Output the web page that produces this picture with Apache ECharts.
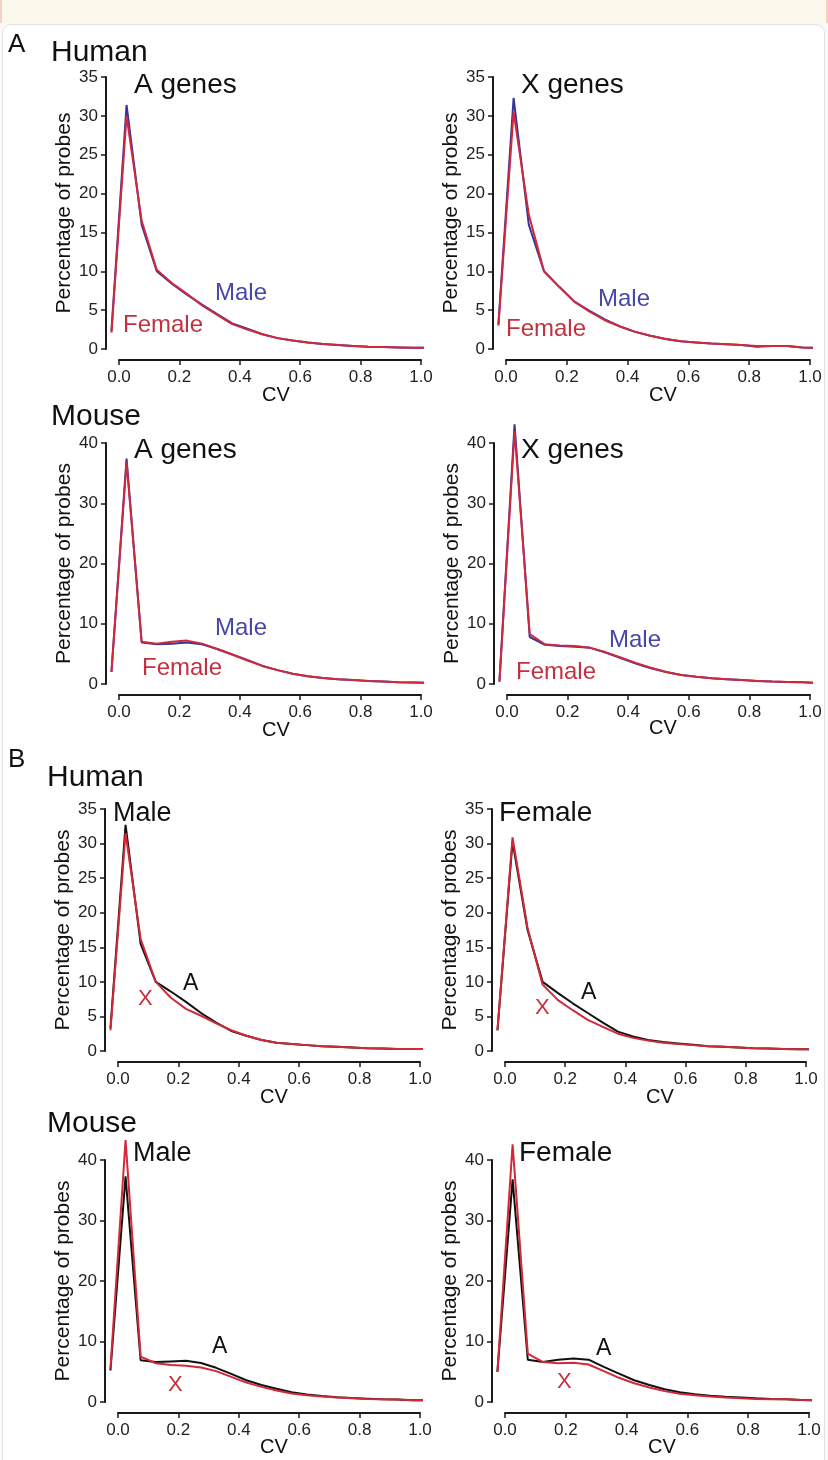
<!DOCTYPE html>
<html>
<head>
<meta charset="utf-8">
<script src="https://cdn.jsdelivr.net/npm/echarts@6/dist/echarts.min.js"></script>
<style>
  html, body { margin: 0; padding: 0; background: #fafafa; }
  #band { position: absolute; left: 0; top: 0; width: 824px; height: 23px; background: #fdf8ec;
          border-left: 2px solid #f4d3c4; border-right: 2px solid #f4d3c4; }
  #panel { position: absolute; left: 2px; top: 24px; width: 821px; height: 1450px; background: #fff;
           border: 1px solid #e2e2e2; border-radius: 9px; }
  #main { position: absolute; left: 0; top: 0; width: 828px; height: 1460px; }
</style>
</head>
<body>
<div id="band"></div>
<div id="panel"></div>
<div id="main"></div>
<script>
// CV 取值（每个折线点的横坐标）
var cv = [-0.025, 0.025, 0.075, 0.125, 0.175, 0.225, 0.275, 0.325, 0.375, 0.425, 0.475,
          0.525, 0.575, 0.625, 0.675, 0.725, 0.775, 0.825, 0.875, 0.925, 0.975, 1.01];

// A: Human A genes
var humanAMale   = [2.3, 31.4, 16.0, 10.0, 8.4, 7.0, 5.7, 4.5, 3.3, 2.6, 1.9, 1.4, 1.1, 0.85, 0.65, 0.5, 0.4, 0.3, 0.25, 0.2, 0.15, 0.15];
var humanAFemale = [2.1, 30.0, 16.5, 10.2, 8.5, 7.1, 5.6, 4.4, 3.2, 2.5, 1.9, 1.4, 1.1, 0.85, 0.65, 0.5, 0.4, 0.3, 0.25, 0.2, 0.15, 0.15];
// A: Human X genes
var humanXMale   = [3.2, 32.3, 16.0, 10.0, 8.0, 6.1, 4.9, 3.8, 2.9, 2.2, 1.7, 1.3, 1.0, 0.85, 0.7, 0.6, 0.5, 0.3, 0.4, 0.4, 0.2, 0.15];
var humanXFemale = [3.0, 30.5, 17.3, 10.0, 8.0, 6.1, 4.8, 3.7, 2.9, 2.2, 1.7, 1.3, 1.0, 0.85, 0.7, 0.6, 0.5, 0.4, 0.4, 0.4, 0.2, 0.15];
// A: Mouse A genes
var mouseAMale   = [2.0, 37.4, 6.9, 6.6, 6.7, 6.9, 6.6, 5.8, 4.9, 4.0, 3.0, 2.3, 1.7, 1.3, 1.0, 0.8, 0.65, 0.5, 0.4, 0.3, 0.25, 0.2];
var mouseAFemale = [2.0, 36.8, 7.0, 6.7, 7.0, 7.2, 6.7, 5.8, 4.9, 3.9, 3.0, 2.3, 1.7, 1.3, 1.0, 0.8, 0.65, 0.5, 0.4, 0.3, 0.25, 0.2];
// A: Mouse X genes
var mouseXMale   = [0.4, 43.1, 7.8, 6.5, 6.3, 6.2, 6.0, 5.2, 4.3, 3.4, 2.6, 2.0, 1.5, 1.2, 0.95, 0.8, 0.65, 0.5, 0.4, 0.35, 0.3, 0.2];
var mouseXFemale = [0.4, 42.0, 8.3, 6.6, 6.4, 6.3, 6.0, 5.3, 4.4, 3.5, 2.7, 2.0, 1.5, 1.2, 0.95, 0.8, 0.65, 0.5, 0.4, 0.35, 0.3, 0.2];

// B: Human Male / Female (A vs X)
var bHumanMaleA   = [3.3, 32.7, 15.5, 10.0, 8.6, 7.1, 5.5, 4.1, 2.9, 2.2, 1.6, 1.2, 1.0, 0.85, 0.7, 0.6, 0.5, 0.4, 0.35, 0.3, 0.3, 0.3];
var bHumanMaleX   = [3.0, 31.5, 16.2, 10.0, 7.7, 6.1, 5.1, 4.0, 3.0, 2.2, 1.6, 1.2, 1.0, 0.85, 0.7, 0.6, 0.5, 0.4, 0.35, 0.3, 0.3, 0.3];
var bHumanFemaleA = [3.0, 30.3, 17.5, 10.0, 8.4, 6.9, 5.5, 4.1, 2.8, 2.1, 1.6, 1.3, 1.1, 0.9, 0.7, 0.6, 0.5, 0.4, 0.35, 0.3, 0.25, 0.25];
var bHumanFemaleX = [3.0, 30.9, 17.8, 9.6, 7.4, 5.9, 4.5, 3.5, 2.5, 1.9, 1.5, 1.2, 1.0, 0.85, 0.7, 0.6, 0.5, 0.4, 0.35, 0.3, 0.25, 0.25];
// B: Mouse Male / Female (A vs X)
var bMouseMaleA   = [5.2, 37.3, 6.9, 6.6, 6.7, 6.8, 6.45, 5.65, 4.65, 3.6, 2.8, 2.2, 1.6, 1.25, 1.0, 0.8, 0.65, 0.55, 0.45, 0.4, 0.3, 0.3];
var bMouseMaleX   = [5.5, 43.3, 7.5, 6.4, 6.1, 6.0, 5.7, 5.1, 4.15, 3.2, 2.5, 1.9, 1.4, 1.1, 0.9, 0.75, 0.6, 0.5, 0.45, 0.4, 0.3, 0.3];
var bMouseFemaleA = [5.0, 36.8, 7.0, 6.6, 7.0, 7.2, 7.0, 5.8, 4.7, 3.6, 2.8, 2.1, 1.6, 1.3, 1.05, 0.85, 0.75, 0.6, 0.5, 0.45, 0.35, 0.3];
var bMouseFemaleX = [5.0, 42.6, 8.0, 6.6, 6.4, 6.5, 6.2, 5.1, 4.0, 3.1, 2.4, 1.8, 1.35, 1.1, 0.9, 0.75, 0.6, 0.5, 0.45, 0.45, 0.35, 0.3];

var FONT = '"Liberation Sans", Arial, Helvetica, sans-serif';
var BLUE = '#35359c', RED = '#d2283a', BLACK = '#111111';
var AXIS_C = '#1a1a1a';
var PAD = 0.05;   // 数据区左右留白（CV 单位）

// 每个小图：x0 = CV 0 的位置，w = CV 0..1 的宽度，纵轴 0..ymax 占 top..top+h
var panels = [
  {x0: 119, w: 302, top: 77,   h: 272, ymax: 35, step: 5,  lines: [[humanAMale, BLUE], [humanAFemale, RED]]},
  {x0: 506, w: 304, top: 77,   h: 272, ymax: 35, step: 5,  lines: [[humanXMale, BLUE], [humanXFemale, RED]]},
  {x0: 119, w: 302, top: 443,  h: 241, ymax: 40, step: 10, lines: [[mouseAMale, BLUE], [mouseAFemale, RED]]},
  {x0: 507, w: 303, top: 443,  h: 241, ymax: 40, step: 10, lines: [[mouseXMale, BLUE], [mouseXFemale, RED]]},
  {x0: 118, w: 302, top: 809,  h: 242, ymax: 35, step: 5,  lines: [[bHumanMaleA, BLACK], [bHumanMaleX, RED]]},
  {x0: 505, w: 301, top: 809,  h: 242, ymax: 35, step: 5,  lines: [[bHumanFemaleA, BLACK], [bHumanFemaleX, RED]]},
  {x0: 118, w: 302, top: 1160, h: 242, ymax: 40, step: 10, lines: [[bMouseMaleA, BLACK], [bMouseMaleX, RED]]},
  {x0: 505, w: 304, top: 1160, h: 242, ymax: 40, step: 10, lines: [[bMouseFemaleA, BLACK], [bMouseFemaleX, RED]]}
];

function pairs(ys){
  var out = [];
  for(var i=0; i<cv.length; i++){ out.push([cv[i], ys[i]]); }
  return out;
}

var grids = [], xAxes = [], yAxes = [], series = [];
// 不显示任何部件的辅助轴
function blankAxis(g, min, max){
  return {gridIndex: g, type: 'value', min: min, max: max,
          axisLine: {show: false}, axisTick: {show: false}, axisLabel: {show: false}, splitLine: {show: false}};
}
// 只画最小值处分隔线的辅助轴（用作坐标轴线）
function edgeAxis(g){
  return {gridIndex: g, type: 'value', min: 0, max: 1, interval: 1,
          axisLine: {show: false}, axisTick: {show: false}, axisLabel: {show: false},
          splitLine: {show: true, showMinLine: true, showMaxLine: false, lineStyle: {color: AXIS_C, width: 2}}};
}
for(var p=0; p<panels.length; p++){
  var pn = panels[p];
  var gD = grids.length, gY = gD + 1, gX = gD + 2;

  // 数据区
  grids.push({left: pn.x0 - PAD * pn.w, width: (1 + 2 * PAD) * pn.w, top: pn.top, height: pn.h});
  xAxes.push(blankAxis(gD, -PAD, 1 + PAD));
  yAxes.push(blankAxis(gD, 0, pn.ymax));

  // 纵轴（与 CV=0 相隔 13px）
  grids.push({left: pn.x0 - 13, width: pn.w, top: pn.top, height: pn.h});
  xAxes.push(edgeAxis(gY));
  yAxes.push({
    gridIndex: gY, type: 'value', min: 0, max: pn.ymax, interval: pn.step,
    name: 'Percentage of probes', nameLocation: 'middle', nameRotate: 90, nameGap: 30,
    nameTextStyle: {fontFamily: FONT, fontSize: 21, color: '#111'},
    axisLine: {show: true, lineStyle: {color: AXIS_C, width: 2}},
    axisTick: {show: true, length: 5, lineStyle: {color: AXIS_C, width: 1.5}},
    axisLabel: {fontFamily: FONT, fontSize: 17, color: '#222', margin: 8},
    splitLine: {show: false}
  });

  // 横轴（在 y=0 下方 11px）
  grids.push({left: pn.x0, width: pn.w, top: pn.top, height: pn.h + 11});
  yAxes.push(edgeAxis(gX));
  xAxes.push({
    gridIndex: gX, type: 'value', min: 0, max: 1, interval: 0.2,
    axisLine: {show: true, lineStyle: {color: AXIS_C, width: 2}},
    axisTick: {show: true, length: 5, lineStyle: {color: AXIS_C, width: 1.5}},
    axisLabel: {fontFamily: FONT, fontSize: 17, color: '#222', margin: 9,
                formatter: function(v){ return Number(v).toFixed(1); }},
    splitLine: {show: false}
  });

  for(var k=0; k<pn.lines.length; k++){
    series.push({
      type: 'line', xAxisIndex: gD, yAxisIndex: gD,
      data: pairs(pn.lines[k][0]),
      showSymbol: false, clip: false,
      lineStyle: {color: pn.lines[k][1], width: 2}
    });
  }
}

// 文字标注（x = 左边，y = 文字中线）
var MALE_C = '#4747a8', FEMALE_C = '#c3303f';
function lbl(s, x, y, size, color){
  return {text: s, left: x, top: Math.round(y - size / 2), padding: 0,
          textStyle: {fontFamily: FONT, fontSize: size, fontWeight: 'normal', color: color || '#111'}};
}
var titles = [
  lbl('A', 8, 45, 26), lbl('Human', 51, 53, 30),
  lbl('A genes', 134, 85, 28), lbl('X genes', 521, 85, 28),
  lbl('Male', 215, 293, 24, MALE_C), lbl('Female', 123, 325, 24, FEMALE_C),
  lbl('Male', 598, 299, 24, MALE_C), lbl('Female', 506, 329, 24, FEMALE_C),
  lbl('Mouse', 51, 417, 30),
  lbl('A genes', 134, 450, 28), lbl('X genes', 521, 450, 28),
  lbl('Male', 215, 628, 24, MALE_C), lbl('Female', 142, 668, 24, FEMALE_C),
  lbl('Male', 609, 640, 24, MALE_C), lbl('Female', 516, 672, 24, FEMALE_C),
  lbl('B', 8, 760, 26), lbl('Human', 47, 778, 30),
  lbl('Male', 113, 813, 27), lbl('Female', 499, 813, 28),
  lbl('X', 138, 999, 22, FEMALE_C), lbl('A', 183, 983, 23),
  lbl('X', 535, 1008, 22, FEMALE_C), lbl('A', 581, 992, 23),
  lbl('Mouse', 47, 1124, 30),
  lbl('Male', 133, 1153, 27), lbl('Female', 519, 1153, 28),
  lbl('A', 212, 1346, 23), lbl('X', 168, 1385, 22, FEMALE_C),
  lbl('A', 596, 1348, 23), lbl('X', 557, 1382, 22, FEMALE_C),
  // CV 轴名
  lbl('CV', 262, 395, 20), lbl('CV', 649, 395, 20),
  lbl('CV', 262, 730, 20), lbl('CV', 649, 728, 20),
  lbl('CV', 260, 1097, 20), lbl('CV', 646, 1097, 20),
  lbl('CV', 260, 1447, 20), lbl('CV', 648, 1447, 20)
];

var myChart = echarts.init(document.getElementById('main'));
var option = {
  animation: false,
  backgroundColor: 'transparent',
  title: titles,
  grid: grids,
  xAxis: xAxes,
  yAxis: yAxes,
  series: series
};
myChart.setOption(option, true);
</script>
</body>
</html>
